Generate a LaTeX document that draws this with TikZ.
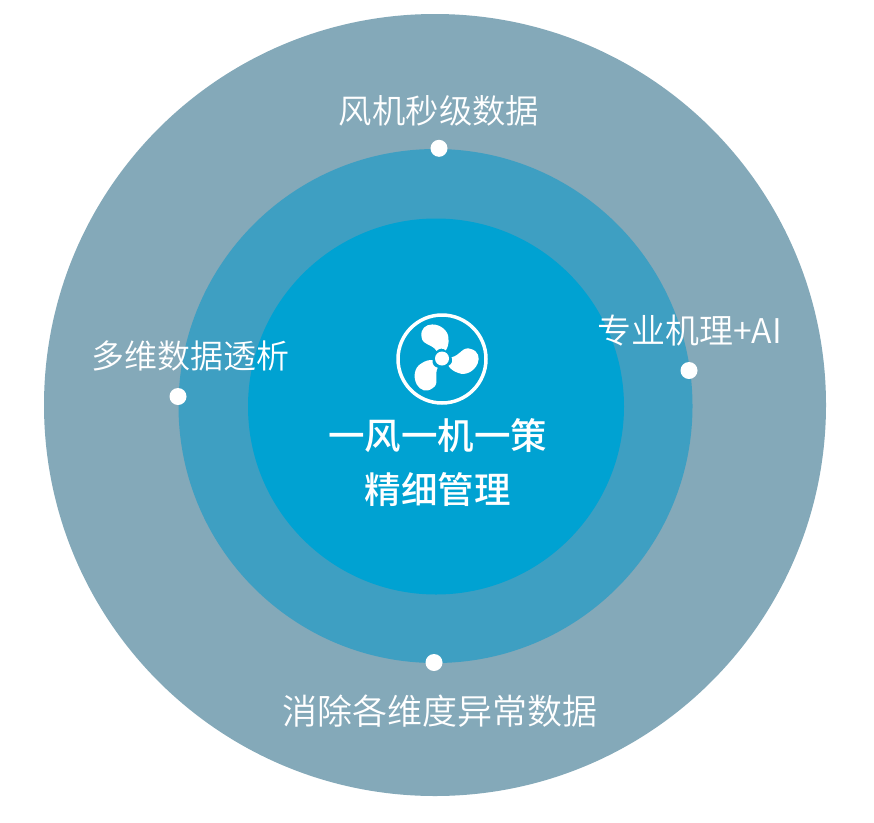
\documentclass[tikz,border=0pt]{standalone}
\usepackage{fontspec}
\newfontfamily\cjk{Noto Sans CJK SC DemiLight}
\newfontfamily\cjkm{Noto Sans CJK SC Medium}
\definecolor{outerc}{HTML}{84A9B9}
\definecolor{midc}{HTML}{3E9FC2}
\definecolor{innerc}{HTML}{00A2D2}
\tikzset{
  ring/.style={circle,minimum size=#1,inner sep=0pt,outer sep=0pt,draw=none},
  dotmark/.style={circle,fill=white,minimum size=17pt,inner sep=0pt,draw=none},
  outerlabel/.style={text=white,inner sep=0pt,font=\cjk\fontsize{#1}{#1}\selectfont},
  centerlabel/.style={text=white,inner sep=0pt,font=\cjkm\fontsize{36.5}{36.5}\selectfont},
  blade/.style={fill=white,draw=none}
}
\begin{document}
\begin{tikzpicture}[x=1pt,y=-1pt]
\useasboundingbox (0,0) rectangle (874,822);
\fill[white] (0,0) rectangle (874,822);
\node[ring=782pt,fill=outerc] (outer) at (435,405) {};
\node[ring=514pt,fill=midc] (mid) at (435.5,406) {};
\node[ring=376pt,fill=innerc] (inner) at (436,406.5) {};
% fan
\node[circle,draw=white,line width=3.5pt,minimum size=88pt,inner sep=0pt] (fan) at (442,359) {};
\node[circle,fill=white,minimum size=14pt,inner sep=0pt] (hub) at (442,358.5) {};
\foreach \a in {0,120,247}{
  \fill[blade,shift={(442,359)},rotate=\a,scale=1.08,shift={(-442,-359)}]
    (437,351.5) .. controls (433,345) and (423,346) .. (423,338)
    .. controls (422,331) and (427,327) .. (433,327)
    .. controls (441,327) and (448,333) .. (448,340)
    .. controls (448.5,345) and (447,349) .. (445.5,351)
    .. controls (443,348.5) and (439,349) .. (437,351.5) -- cycle;
}
\node[outerlabel=33.4] (t1) at (439,110.5) {风机秒级数据};
\node[dotmark] (d1) at (439,148.3) {};
\node[outerlabel=34] (t2) at (689.5,331) {专业机理+AI};
\node[dotmark] (d2) at (689,370.5) {};
\node[outerlabel=33] (t3) at (190.5,356) {多维数据透析};
\node[dotmark] (d3) at (178,396.5) {};
\node[outerlabel=35] (t4) at (439.5,711) {消除各维度异常数据};
\node[dotmark] (d4) at (434,662.5) {};
\node[centerlabel] (c1) at (437.5,436) {一风一机一策};
\node[centerlabel] (c2) at (437.5,490) {精细管理};
\end{tikzpicture}
\end{document}
